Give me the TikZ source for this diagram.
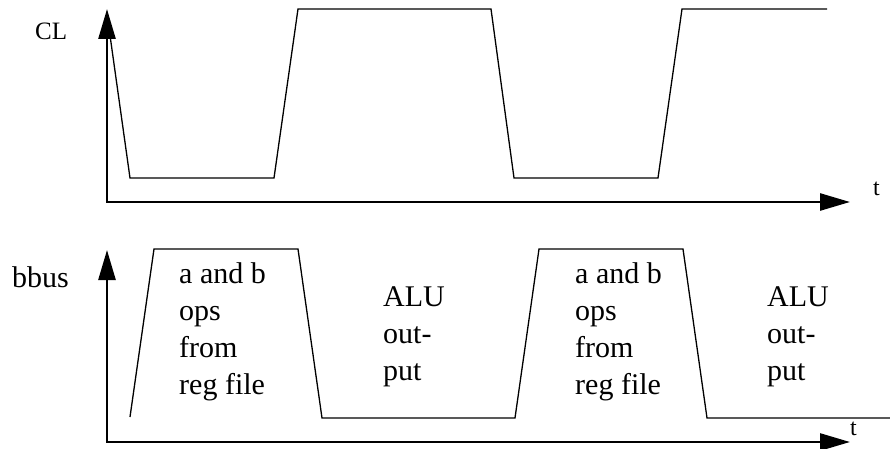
\documentclass[tikz,border=0pt]{standalone}
\usepackage{fontspec}
\setmainfont{Liberation Serif}
\usetikzlibrary{arrows.meta}
\begin{document}
\begin{tikzpicture}[x=1pt,y=-1pt,
  axis/.style={line width=2.6pt, line join=miter,
    {Triangle[length=30pt,width=17pt]}-{Triangle[length=30pt,width=17pt]}},
  wave/.style={line width=1.3pt, line join=miter},
  lbl/.style={inner sep=0pt, anchor=base west, font=\fontsize{30}{37}\selectfont, align=left},
  axlbl/.style={inner sep=0pt, anchor=base west, font=\fontsize{25}{30}\selectfont}]
\useasboundingbox (0,0) rectangle (890,449);
% top axes
\coordinate (o1) at (107,202);
\coordinate (y1) at (107,9);
\coordinate (x1) at (850,202);
\draw[axis] (y1) -- (o1) -- (x1);
% bottom axes
\coordinate (o2) at (107,442);
\coordinate (y2) at (107,250);
\coordinate (x2) at (850,442);
\draw[axis] (y2) -- (o2) -- (x2);
% clock waveform
\draw[wave] (107,14) -- (130,178) -- (274,178) -- (298,9) -- (491,9) -- (514,178)
  -- (658,178) -- (682,9) -- (827,9);
% bbus waveform
\draw[wave] (130,417) -- (154,249) -- (298,249) -- (322,418) -- (515,418) -- (539,249)
  -- (683,249) -- (707,418) -- (890,418);
% labels (base anchor = last line baseline)
\node[axlbl] (cl) at (35,40) {CL};
\node[lbl] (bb) at (12,287) {bbus};
\node[axlbl, font=\fontsize{24}{28}\selectfont] (t1) at (873,195) {t};
\node[axlbl, font=\fontsize{24}{28}\selectfont] (t2) at (850,435) {t};
\node[lbl] (ab1) at (179,394) {a and b\\ops\\from\\reg file};
\node[lbl] (ab2) at (575,394) {a and b\\ops\\from\\reg file};
\node[lbl] (alu1) at (383,380) {ALU\\out-\\put};
\node[lbl] (alu2) at (767,380) {ALU\\out-\\put};
\end{tikzpicture}
\end{document}
